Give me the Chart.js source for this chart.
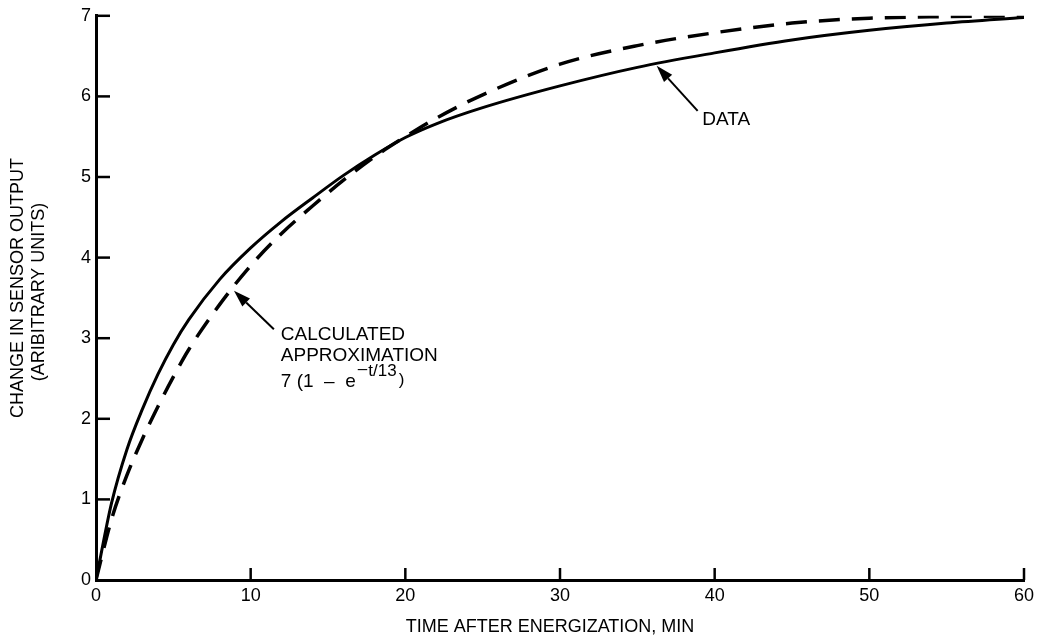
<!DOCTYPE html>
<html>
<head>
<meta charset="utf-8">
<script src="https://cdn.jsdelivr.net/npm/chart.js@4.4.1/dist/chart.umd.min.js"></script>
<style>
  html, body { margin: 0; padding: 0; background: #fff; }
  #wrap { width: 1042px; height: 639px; position: relative; }
</style>
</head>
<body>
<div id="wrap"><canvas id="sensorChart"></canvas></div>
<script>
// time after energization (min)
const timeMin = [0, 1, 2, 3, 4, 5, 6, 8, 10, 12, 14, 16, 18, 20, 22, 25, 30, 35, 40, 45, 50, 55, 60];
// measured sensor response
const measured = [0, 0.95, 1.62, 2.12, 2.55, 2.92, 3.23, 3.73, 4.12, 4.45, 4.74, 5.02, 5.27, 5.49, 5.66, 5.86, 6.13, 6.36, 6.54, 6.70, 6.82, 6.91, 6.98];
// calculated approximation curve
const approx = [0, 0.75, 1.3, 1.75, 2.15, 2.52, 2.86, 3.42, 3.9, 4.3, 4.64, 4.96, 5.25, 5.5, 5.73, 6.02, 6.40, 6.63, 6.79, 6.91, 6.97, 6.99, 7.0];

const xTicks = [0, 10, 20, 30, 40, 50, 60];
const yTicks = [0, 1, 2, 3, 4, 5, 6, 7];

const FONT = "'Liberation Sans', Arial, Helvetica, sans-serif";

function toPoints(xs, ys) {
    return xs.map((t, i) => ({ x: t, y: ys[i] }));
}

function arrow(ctx, x0, y0, x1, y1) {
    // shaft from (x0,y0) to the tip at (x1,y1), with a filled head
    const ang = Math.atan2(y1 - y0, x1 - x0);
    const headLen = 17, headW = 5.5;
    const bx = x1 - headLen * Math.cos(ang);
    const by = y1 - headLen * Math.sin(ang);
    ctx.beginPath();
    ctx.moveTo(x0, y0);
    ctx.lineTo(bx, by);
    ctx.lineWidth = 2;
    ctx.stroke();
    ctx.beginPath();
    ctx.moveTo(x1, y1);
    ctx.lineTo(bx + headW * Math.sin(ang), by - headW * Math.cos(ang));
    ctx.lineTo(bx - headW * Math.sin(ang), by + headW * Math.cos(ang));
    ctx.closePath();
    ctx.fill();
}

const decorations = {
    id: 'decorations',
    afterDraw(chart) {
        const { ctx, scales: { x, y }, chartArea } = chart;
        ctx.save();
        ctx.strokeStyle = '#000';
        ctx.fillStyle = '#000';

        // inward tick marks
        ctx.lineWidth = 2.5;
        yTicks.slice(1).forEach(v => {
            const py = y.getPixelForValue(v);
            ctx.beginPath();
            ctx.moveTo(chartArea.left, py);
            ctx.lineTo(chartArea.left + 14, py);
            ctx.stroke();
        });
        xTicks.slice(1).forEach(v => {
            const px = x.getPixelForValue(v);
            ctx.beginPath();
            ctx.moveTo(px, chartArea.bottom);
            ctx.lineTo(px, chartArea.bottom - 12);
            ctx.stroke();
        });

        // axis titles
        ctx.font = '18px ' + FONT;
        ctx.textAlign = 'center';
        ctx.textBaseline = 'alphabetic';
        ctx.fillText('TIME AFTER ENERGIZATION, MIN', 550, 632);

        ctx.save();
        ctx.translate(23, 288);
        ctx.rotate(-Math.PI / 2);
        ctx.fillText('CHANGE IN SENSOR OUTPUT', 0, 0);
        ctx.restore();
        ctx.save();
        ctx.translate(44, 292);
        ctx.rotate(-Math.PI / 2);
        ctx.fillText('(ARIBITRARY UNITS)', 0, 0);
        ctx.restore();

        // DATA label and arrow
        ctx.font = '19px ' + FONT;
        ctx.textAlign = 'left';
        arrow(ctx, x.getPixelForValue(38.9), y.getPixelForValue(5.82),
                   x.getPixelForValue(36.25), y.getPixelForValue(6.38));
        ctx.fillText('DATA', x.getPixelForValue(39.2), y.getPixelForValue(5.64));

        // approximation label and arrow
        arrow(ctx, x.getPixelForValue(11.5), y.getPixelForValue(3.11),
                   x.getPixelForValue(8.92), y.getPixelForValue(3.59));
        const lx = x.getPixelForValue(11.95);
        ctx.fillText('CALCULATED', lx, 340);
        ctx.fillText('APPROXIMATION', lx, 361);
        const base = 387;
        const main = '7 (1  \u2013  e';
        ctx.fillText(main, lx, base);
        let cx = lx + ctx.measureText(main).width + 2;
        ctx.font = '17px ' + FONT;
        ctx.fillText('\u2013', cx, base - 13);
        cx += ctx.measureText('\u2013').width + 1;
        ctx.fillText('t/13', cx, base - 11);
        cx += ctx.measureText('t/13').width + 2;
        ctx.fillText(')', cx, base - 2);

        ctx.restore();
    }
};

new Chart(document.getElementById('sensorChart'), {
    type: 'line',
    data: {
        datasets: [
            {
                label: 'DATA',
                data: toPoints(timeMin, measured),
                borderColor: '#000',
                borderWidth: 3,
                pointRadius: 0,
                cubicInterpolationMode: 'monotone',
                fill: false
            },
            {
                label: 'CALCULATED APPROXIMATION',
                data: toPoints(timeMin, approx),
                borderColor: '#000',
                borderWidth: 3.5,
                borderDash: [21, 12],
                pointRadius: 0,
                cubicInterpolationMode: 'monotone',
                fill: false
            }
        ]
    },
    options: {
        responsive: true,
        maintainAspectRatio: false,
        animation: false,
        events: [],
        layout: { padding: { left: 0, top: 15, right: 18, bottom: 0 } },
        plugins: {
            legend: { display: false },
            tooltip: { enabled: false }
        },
        scales: {
            x: {
                type: 'linear',
                min: 0,
                max: 60,
                afterFit: (scale) => { scale.height = 59; },
                ticks: {
                    stepSize: 10,
                    padding: 5,
                    color: '#000',
                    font: { family: FONT, size: 18 },
                    maxRotation: 0
                },
                grid: { display: true, drawOnChartArea: false, drawTicks: false },
                border: { display: true, color: '#000', width: 3 }
            },
            y: {
                type: 'linear',
                min: 0,
                max: 7,
                afterFit: (scale) => { scale.width = 96; },
                ticks: {
                    stepSize: 1,
                    padding: 5,
                    color: '#000',
                    font: { family: FONT, size: 18 }
                },
                grid: { display: true, drawOnChartArea: false, drawTicks: false },
                border: { display: true, color: '#000', width: 3 }
            }
        }
    },
    plugins: [decorations]
});
</script>
</body>
</html>
